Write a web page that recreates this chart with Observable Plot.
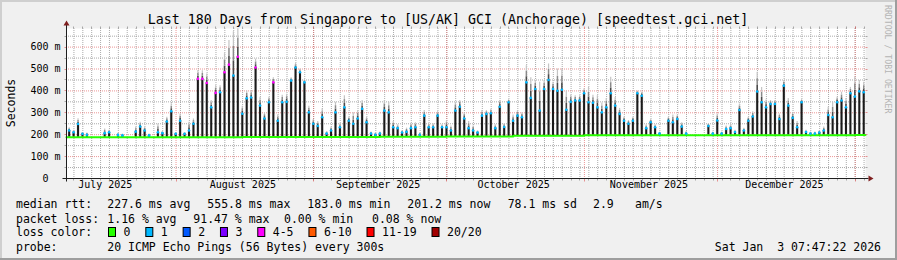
<!DOCTYPE html>
<html><head><meta charset="utf-8">
<script src="https://cdn.jsdelivr.net/npm/d3@7"></script>
<script src="https://cdn.jsdelivr.net/npm/@observablehq/plot@0.6"></script>
<style>
html,body{margin:0;padding:0;background:#f0f0f0;}
svg text{white-space:pre;}
</style></head><body>
<div id="chart"></div>
<script>
// ---------- data ----------
const title = "Last 180 Days from Singapore to [US/AK] GCI (Anchorage) [speedtest.gci.net]";
const startTime = Date.UTC(2025, 6, 7, 7, 47, 22);
const endTime = Date.UTC(2026, 0, 3, 7, 47, 22);
// one evening spike per day, day 0 = 2025-07-07 (about 22:10)
const firstSpike = Date.UTC(2025, 6, 7, 22, 10);
// median rtt at the top of each daily spike (ms)
const spikePeak = [
219,211,249,204,200,192,192,192,207,211,
192,199,197,192,192,214,237,219,197,192,
211,207,260,307,204,264,204,219,250,455,
455,436,325,391,394,485,520,470,556,296,
366,370,507,333,274,348,439,264,348,350,
447,507,485,439,302,250,240,280,205,219,
302,234,325,264,250,274,318,257,205,200,
205,310,302,234,230,210,213,230,234,200,
287,234,234,287,234,234,219,310,328,274,
230,219,210,287,295,298,230,328,235,348,
264,287,280,439,368,409,310,409,450,409,
401,405,314,350,356,356,389,348,346,325,
302,325,389,333,295,264,250,264,389,378,
230,257,234,205,200,264,257,272,237,205,
200,200,198,198,240,205,265,205,226,230,
212,313,219,264,283,397,348,325,340,340,
272,424,333,277,234,348,212,205,205,210,
219,290,280,348,356,325,389,374,398,394];
// highest ping (top of the smoke) of each spike (ms)
const spikeTop = [
232,220,273,210,208,196,196,196,226,220,
196,205,203,196,196,234,257,234,203,196,
249,215,280,341,210,295,210,257,272,492,
492,477,356,424,424,570,630,670,684,330,
400,400,545,370,300,370,460,290,380,385,
460,525,500,450,330,270,260,318,215,235,
348,250,378,280,300,310,356,280,212,208,
212,356,348,260,245,218,230,250,255,208,
310,250,250,305,245,264,240,348,356,300,
260,240,218,310,310,315,245,356,250,360,
290,310,300,515,460,447,440,447,523,440,
500,500,400,380,378,378,410,416,380,378,
345,365,462,370,320,280,265,280,400,395,
245,270,245,212,215,280,290,290,255,215,
215,210,205,205,250,212,295,212,240,245,
220,340,230,280,305,485,416,359,356,356,
295,447,365,300,260,360,220,212,212,218,
235,325,348,371,394,365,416,462,447,439];
// loss class of the median at the spike top (index into lossLabels)
const spikeLoss = [
1,1,1,1,1,1,1,1,1,1, 1,1,1,1,1,1,1,1,1,1, 1,1,1,1,1,1,1,1,1,4,
4,4,1,4,1,4,4,1,4,1, 1,1,4,1,1,1,4,1,1,1, 1,1,1,1,1,1,1,1,1,1,
1,1,1,1,1,1,1,1,1,1, 1,1,1,1,1,1,1,1,1,1, 1,1,1,1,1,1,1,1,1,1,
1,1,1,1,1,1,1,1,1,1, 1,1,1,1,1,1,1,1,1,1, 1,1,1,1,1,1,1,1,1,1,
1,1,1,1,1,1,1,1,1,1, 1,1,1,1,1,1,1,1,1,1, 1,1,1,1,1,1,1,1,1,1,
1,1,1,1,1,1,1,1,1,1, 1,1,1,1,1,1,1,1,1,1, 1,1,1,1,1,1,1,1,1,1];
// baseline median rtt (ms, loss 0) by half month
const baseStart = [[2025,6,7],[2025,6,16],[2025,7,1],[2025,7,16],[2025,8,1],[2025,8,16],[2025,9,1],[2025,9,16],[2025,10,1],[2025,10,16],[2025,11,1],[2025,11,16],[2026,0,1]];
const baseValue = [188,188,188,189,189,191,192,195,197,198,198,198,199];

const yTicks = [0,100,200,300,400,500,600];
const yTickLabels = ["0  ","100 m","200 m","300 m","400 m","500 m","600 m"];
const yMinorTicks = [50,150,250,350,450,550,650];
const monthLabels = ["July 2025","August 2025","September 2025","October 2025","November 2025","December 2025"];
const lossLabels = ["0","1","2","3","4-5","6-10","11-19","20/20"];
const lossColors = ["#26ff00","#00b8ff","#0059ff","#7a00ff","#ff00ff","#ff5a00","#ff0000","#a10000"];

const rttLine = ["median rtt:","227.6 ms avg","555.8 ms max","183.0 ms min","201.2 ms now","78.1 ms sd","2.9","am/s"];
const lossLine = ["packet loss:","1.16 % avg","91.47 % max","0.00 % min","0.08 % now"];
const probeLine = ["probe:","20 ICMP Echo Pings (56 Bytes) every 300s"];
const dateStamp = "Sat Jan  3 07:47:22 2026";
const watermark = "RRDTOOL / TOBI OETIKER";

// ---------- derived tables ----------
const baseTimes = baseStart.map(([y,m,d]) => Math.max(startTime, Date.UTC(y,m,d)));
function baseAt(t){ let v = baseValue[0]; for (let k=0;k<baseTimes.length;k++) if (t >= baseTimes[k]) v = baseValue[k]; return v; }
const basePts = baseTimes.map((t,k)=>({t:new Date(t), v:baseValue[k]})).concat([{t:new Date(endTime), v:baseValue[baseValue.length-1]}]);
const spikes = spikePeak.map((p,i)=>{
  const t = firstSpike + i*864e5;
  const b = baseAt(t), top = spikeTop[i];
  return {t:new Date(t), base:b, peak:p, top, s1:p+(top-p)/3, s2:p+2*(top-p)/3, color:lossColors[spikeLoss[i]]};
}).filter(d => d.peak - d.base > 4 && +d.t < endTime);

const months = d3.utcMonth.range(d3.utcMonth.floor(new Date(startTime)), new Date(endTime));
const monthStarts = months.filter(m => +m > startTime);
const monthMids = months.slice(0, monthLabels.length).map(m => new Date((+m + +d3.utcMonth.offset(m,1))/2));
const dayGrid = d3.utcDay.range(new Date(startTime), new Date(endTime)).filter(d => Math.round(+d/864e5) % 2 === 0);

const GRID = "#8f8f8f", MGRID = "#de5050";

const chart = Plot.plot({
  width: 897, height: 260,
  marginLeft: 66, marginRight: 32, marginTop: 28, marginBottom: 82,
  style: {background: "#f0f0f0", fontFamily: "DejaVu Sans Mono", color: "#000"},
  x: {type: "utc", domain: [new Date(startTime), new Date(endTime)], axis: null},
  y: {domain: [0, 685], axis: null},
  color: {type: "identity"},
  marks: [
    Plot.frame({fill: "#ffffff", stroke: null}),
    Plot.ruleY(yMinorTicks, {stroke: GRID, strokeOpacity: 0.75, strokeDasharray: "1,1"}),
    Plot.ruleX(dayGrid, {stroke: GRID, strokeOpacity: 0.75, strokeDasharray: "1,1"}),
    Plot.ruleY(yTicks.slice(1), {stroke: MGRID, strokeOpacity: 0.6, strokeDasharray: "1,1"}),
    Plot.ruleX(monthStarts, {stroke: MGRID, strokeOpacity: 0.6, strokeDasharray: "1,1"}),
    // smoke halo and above-median smoke
    Plot.ruleX(spikes, {x: "t", y1: "base", y2: "peak", stroke: "#909090", strokeOpacity: 0.25, strokeWidth: 3}),
    Plot.ruleX(spikes, {x: "t", y1: "peak", y2: "s1", stroke: "#4a4a4a", strokeWidth: 1.6}),
    Plot.ruleX(spikes, {x: "t", y1: "s1", y2: "s2", stroke: "#8a8a8a", strokeWidth: 1.5}),
    Plot.ruleX(spikes, {x: "t", y1: "s2", y2: "top", stroke: "#c4c4c4", strokeWidth: 1.2}),
    Plot.ruleX(spikes, {x: "t", y1: "base", y2: "peak", stroke: "#1a1a1a", strokeWidth: 2}),
    Plot.line(basePts, {x: "t", y: "v", stroke: lossColors[0], strokeWidth: 2, curve: "step-after"}),
    Plot.dot(spikes, {x: "t", y: "peak", r: 1.3, fill: "color", stroke: null}),
    Plot.text(yTicks, {y: d => d, text: (d,i) => yTickLabels[i], frameAnchor: "left", textAnchor: "end", dx: -6, fontSize: 10}),
    Plot.text(monthMids, {x: d => d, text: (d,i) => monthLabels[i], frameAnchor: "bottom", dy: 9.5, dx: -2, fontSize: 10})
  ]
});
document.getElementById("chart").appendChild(chart);

// ---------- rrdtool style decorations ----------
const sx = chart.scale("x"), sy = chart.scale("y");
const X0 = Math.round(sx.apply(new Date(startTime))) + 0.5;
const X1 = Math.round(sx.apply(new Date(endTime))) + 0.5;
const Y0 = Math.round(sy.apply(0)) + 0.5;
const YT = Math.round(sy.apply(685)) + 0.5;
const svg = d3.select(chart);
const g = svg.append("g").attr("font-family", "DejaVu Sans Mono").attr("fill", "#000").attr("text-anchor", "start");
function seg(x1,y1,x2,y2,c,op){ g.append("line").attr("x1",x1).attr("y1",y1).attr("x2",x2).attr("y2",y2).attr("stroke",c).attr("stroke-opacity",op); }
yMinorTicks.forEach(v => { const y = Math.round(sy.apply(v))+0.5; seg(X0-2,y,X0,y,GRID,0.75); seg(X1,y,X1+2,y,GRID,0.75); });
yTicks.forEach(v => { const y = Math.round(sy.apply(v))+0.5; seg(X0-2,y,X0,y,MGRID,0.6); seg(X1,y,X1+2,y,MGRID,0.6); });
dayGrid.forEach(d => { const x = Math.round(sx.apply(d))+0.5; seg(x,YT-2,x,YT,GRID,0.75); seg(x,Y0,x,Y0+2,GRID,0.75); });
monthStarts.forEach(d => { const x = Math.round(sx.apply(d))+0.5; seg(x,YT-2,x,YT,MGRID,0.6); seg(x,Y0,x,Y0+3,MGRID,0.6); });
// axes with arrows
seg(X0, Y0+3, X0, YT-4, "#1f1f1f", 1);
seg(X0-4, Y0, X1+3, Y0, "#1f1f1f", 1);
g.append("polygon").attr("points", `${X0-3},${YT-3} ${X0+3},${YT-3} ${X0},${YT-8}`).attr("fill", "#7f1f1f");
g.append("polygon").attr("points", `${X1+3},${Y0-3} ${X1+3},${Y0+3} ${X1+8},${Y0}`).attr("fill", "#7f1f1f");
// bevel
g.append("rect").attr("x",0).attr("y",0).attr("width",897).attr("height",2).attr("fill","#cfcfcf");
g.append("rect").attr("x",0).attr("y",0).attr("width",2).attr("height",260).attr("fill","#cfcfcf");
g.append("rect").attr("x",0).attr("y",258).attr("width",897).attr("height",2).attr("fill","#9e9e9e");
g.append("rect").attr("x",895).attr("y",0).attr("width",2).attr("height",260).attr("fill","#9e9e9e");
// title, unit, watermark
g.append("text").attr("x",448).attr("y",19.3).attr("dy","0.35em").attr("text-anchor","middle").attr("font-size",13.3).text(title);
g.append("text").attr("transform","translate(11,103) rotate(-90)").attr("dy","0.35em").attr("text-anchor","middle").attr("font-size",11.5).text("Seconds");
g.append("text").attr("transform","translate(888,5) rotate(90)").attr("dominant-baseline","central").attr("text-anchor","start").attr("font-size",8.2).attr("fill","#b4b4b4").text(watermark);
// legend
function chunks(items, xs, y){ items.forEach((s,k)=> g.append("text").attr("x",xs[k]).attr("y",y).attr("dy","0.35em").attr("text-anchor","start").attr("font-size",11.5).text(s)); }
chunks(rttLine, [16,107.3,207.3,307.3,407.3,507.7,593,635], 204.3);
chunks(lossLine, [16,107.3,193.3,284,372], 218.5);
chunks(["loss color:"], [16], 232.3);
let bx = 108.5;
lossLabels.forEach((lab,k) => {
  g.append("rect").attr("x",bx).attr("y",227.5).attr("width",7).attr("height",9).attr("fill",lossColors[k]).attr("stroke","#000").attr("stroke-width",1);
  g.append("text").attr("x",bx+15).attr("y",232.3).attr("dy","0.35em").attr("text-anchor","start").attr("font-size",11.5).text(lab);
  bx += 15 + lab.length*6.92 + 15.4;
});
chunks(probeLine, [16,107.3], 246.5);
g.append("text").attr("x",881).attr("y",246.5).attr("dy","0.35em").attr("text-anchor","end").attr("font-size",11.5).text(dateStamp);
</script></body></html>
